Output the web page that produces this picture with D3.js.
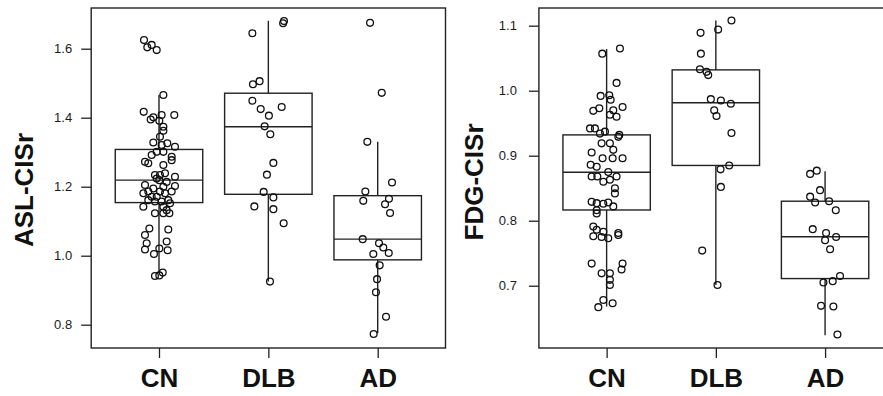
<!DOCTYPE html>
<html>
<head>
<meta charset="utf-8">
<script src="https://cdn.jsdelivr.net/npm/d3@7"></script>
<style>
  body { margin:0; background:#fff; }
  svg { display:block; font-family:"Liberation Sans", Arial, sans-serif; }
  .tick line { stroke:#222; stroke-width:1.3; }
  .ytick text { font-size:13px; fill:#1a1a1a; }
  .xtick text { font-size:26px; font-weight:bold; fill:#111; }
</style>
</head>
<body>
<svg id="chart" width="883" height="396"></svg>
<script>
const groups = ["CN", "DLB", "AD"];

// ASL-CISr: [value, horizontal jitter in category units]
const aslCN = [
  [1.625,-0.137],[1.604,-0.107],[1.611,-0.067],[1.596,-0.021],[1.466,0.040],
  [1.417,-0.140],[1.395,-0.076],[1.401,-0.052],[1.408,0.024],[1.408,0.140],
  [1.391,0.003],[1.374,0.040],[1.362,0.040],[1.345,0.009],[1.328,-0.052],
  [1.321,0.024],[1.326,0.076],[1.316,0.146],[1.287,0.116],[1.301,0.040],
  [1.301,-0.021],[1.292,-0.067],[1.272,-0.128],[1.268,-0.098],[1.263,0.040],
  [1.277,0.116],[1.234,-0.037],[1.234,0.009],[1.239,0.055],[1.229,0.146],
  [1.224,-0.021],[1.205,-0.128],[1.195,-0.052],[1.200,0.040],[1.202,0.146],
  [1.186,0.009],[1.181,-0.143],[1.186,-0.098],[1.171,-0.021],[1.181,0.055],
  [1.186,0.116],[1.157,-0.037],[1.157,0.024],[1.161,0.085],[1.142,-0.143],
  [1.142,0.040],[1.152,0.101],[1.123,0.040],[1.123,0.095],[1.132,0.070],
  [1.079,-0.088],[1.076,0.085],[1.060,-0.128],[1.036,-0.113],[1.041,0.070],
  [1.018,-0.128],[1.005,-0.046],[1.021,0.003],[1.016,0.079],[0.941,-0.037],
  [0.943,0.003],[0.951,0.034],[1.171,-0.067],[1.161,-0.098],[1.219,0.003],
  [1.214,0.070],[1.123,-0.037]
];
const aslDLB = [
  [1.680,0.143],[1.674,0.135],[1.645,-0.146],[1.497,-0.141],[1.506,-0.080],
  [1.449,-0.146],[1.425,-0.070],[1.406,0.005],[1.431,0.122],[1.375,-0.034],
  [1.352,0.018],[1.269,0.046],[1.235,-0.013],[1.185,-0.043],[1.169,0.046],
  [1.143,-0.128],[1.135,0.046],[1.094,0.140],[0.925,0.015]
];
const aslAD = [
  [1.675,-0.070],[1.472,0.037],[1.330,-0.095],[1.212,0.131],[1.186,-0.113],
  [1.159,-0.132],[1.165,0.103],[1.149,0.067],[1.124,0.113],[1.048,-0.137],
  [1.036,0.012],[1.024,0.051],[1.008,0.101],[1.005,-0.040],[0.972,0.018],
  [0.932,-0.006],[0.894,-0.016],[0.823,0.076],[0.773,-0.037]
];
// box stats: [lower whisker, Q1, median, Q3, upper whisker]
const aslBoxes = [
  [0.949, 1.154, 1.219, 1.308, 1.466],
  [0.925, 1.178, 1.374, 1.471, 1.681],
  [0.775, 0.988, 1.048, 1.174, 1.330]
];
const aslTicks = [0.8, 1.0, 1.2, 1.4, 1.6];

// FDG-CISr
const fdgCN = [
  [1.057,-0.040],[1.065,0.122],[1.012,0.091],[0.992,-0.055],[0.993,0.024],
  [0.986,0.037],[0.969,-0.122],[0.973,-0.067],[0.975,0.146],[0.970,0.061],
  [0.963,0.030],[0.960,0.091],[0.942,-0.107],[0.942,-0.152],[0.937,-0.015],
  [0.934,-0.061],[0.932,0.116],[0.929,0.107],[0.905,-0.137],[0.919,-0.046],
  [0.919,0.030],[0.909,0.061],[0.896,-0.037],[0.896,0.055],[0.896,0.146],
  [0.886,-0.146],[0.883,-0.091],[0.875,0.015],[0.868,0.091],[0.868,-0.137],
  [0.868,-0.085],[0.863,0.030],[0.860,-0.030],[0.850,0.076],[0.842,0.076],
  [0.829,-0.137],[0.827,-0.091],[0.826,-0.030],[0.828,0.015],[0.822,0.061],
  [0.816,-0.091],[0.811,-0.091],[0.791,-0.122],[0.786,-0.091],[0.783,-0.030],
  [0.773,0.015],[0.781,0.107],[0.778,0.107],[0.776,-0.122],[0.775,-0.046],
  [0.734,-0.137],[0.734,0.146],[0.725,0.137],[0.719,-0.046],[0.719,0.030],
  [0.709,0.030],[0.701,0.030],[0.678,-0.030],[0.667,-0.076],[0.673,0.055]
];
const fdgDLB = [
  [1.108,0.143],[1.094,0.021],[1.089,-0.140],[1.057,-0.137],[1.033,-0.146],
  [1.029,-0.085],[1.024,-0.070],[0.987,-0.046],[0.985,0.046],[0.980,0.137],
  [0.970,-0.015],[0.961,0.006],[0.935,0.143],[0.885,0.122],[0.879,0.043],
  [0.852,0.046],[0.754,-0.125],[0.701,0.015]
];
const fdgAD = [
  [0.872,-0.137],[0.877,-0.076],[0.847,-0.046],[0.837,-0.137],[0.828,-0.091],
  [0.830,0.037],[0.816,0.098],[0.787,-0.113],[0.781,0.009],[0.775,0.101],
  [0.770,0.000],[0.756,0.046],[0.715,0.137],[0.707,0.070],[0.705,-0.015],
  [0.669,-0.037],[0.668,0.076],[0.625,0.113]
];
const fdgBoxes = [
  [0.668, 0.8165, 0.8745, 0.932, 1.064],
  [0.701, 0.885, 0.9815, 1.032, 1.108],
  [0.624, 0.711, 0.7754, 0.830, 0.876]
];
const fdgTicks = [0.7, 0.8, 0.9, 1.0, 1.1];

const svg = d3.select("#chart");

function panel(opt){
  const g = svg.append("g");

  const x = d3.scaleLinear().domain([0.38, 3.62]).range(opt.xr);
  const y = d3.scaleLinear().domain(opt.yd).range([348, 8]);

  // frame
  g.append("rect")
    .attr("x", opt.xr[0]).attr("y", 8)
    .attr("width", opt.xr[1]-opt.xr[0]).attr("height", 340)
    .attr("fill","none").attr("stroke","#222").attr("stroke-width",1.4);

  // y axis
  const ya = g.append("g")
    .attr("class","ytick")
    .attr("transform",`translate(${opt.xr[0]},0)`)
    .call(d3.axisLeft(y).tickValues(opt.ticks).tickSize(10)
      .tickPadding(opt.pad).tickFormat(d3.format(".1f")));
  ya.select(".domain").remove();

  // x axis
  const xa = g.append("g")
    .attr("class","xtick")
    .attr("transform","translate(0,348)")
    .call(d3.axisBottom(x).tickValues([1,2,3]).tickSize(10)
      .tickPadding(11).tickFormat((d,i)=>groups[i]));
  xa.select(".domain").remove();

  // y label
  g.append("text")
    .attr("transform",`translate(${opt.lx},${opt.ly}) rotate(-90)`)
    .attr("text-anchor","middle")
    .attr("dominant-baseline","central")
    .style("font-size","26px").style("font-weight","bold").style("fill","#111")
    .text(opt.label);

  // boxes
  opt.boxes.forEach((b,i)=>{
    const cx = x(i+1);
    const hw = x(1.4) - x(1);
    g.append("line")
      .attr("x1",cx).attr("x2",cx)
      .attr("y1",y(b[0])).attr("y2",y(b[1]))
      .attr("stroke","#222").attr("stroke-width",1.4);
    g.append("line")
      .attr("x1",cx).attr("x2",cx)
      .attr("y1",y(b[3])).attr("y2",y(b[4]))
      .attr("stroke","#222").attr("stroke-width",1.4);
    g.append("rect")
      .attr("x",cx-hw).attr("width",hw*2)
      .attr("y",y(b[3])).attr("height",y(b[1])-y(b[3]))
      .attr("fill","none").attr("stroke","#222").attr("stroke-width",1.4);
    g.append("line")
      .attr("x1",cx-hw).attr("x2",cx+hw)
      .attr("y1",y(b[2])).attr("y2",y(b[2]))
      .attr("stroke","#222").attr("stroke-width",1.4);
  });

  // points
  opt.points.forEach((pts,i)=>{
    g.selectAll(null)
      .data(pts)
      .join("circle")
      .attr("cx",d=>x(i+1+d[1]))
      .attr("cy",d=>y(d[0]))
      .attr("r",3.4)
      .attr("fill","none")
      .attr("stroke","#111")
      .attr("stroke-width",1.3);
  });
}

panel({
  xr:[91.2, 445.5], yd:[0.7325, 1.718], ticks:aslTicks, pad:9,
  label:"ASL-CISr", lx:24, ly:190,
  boxes:aslBoxes, points:[aslCN, aslDLB, aslAD]
});

panel({
  xr:[538.9, 892.8], yd:[0.6042, 1.1272], ticks:fdgTicks, pad:12,
  label:"FDG-CISr", lx:474, ly:182,
  boxes:fdgBoxes, points:[fdgCN, fdgDLB, fdgAD]
});
</script>
</body>
</html>
